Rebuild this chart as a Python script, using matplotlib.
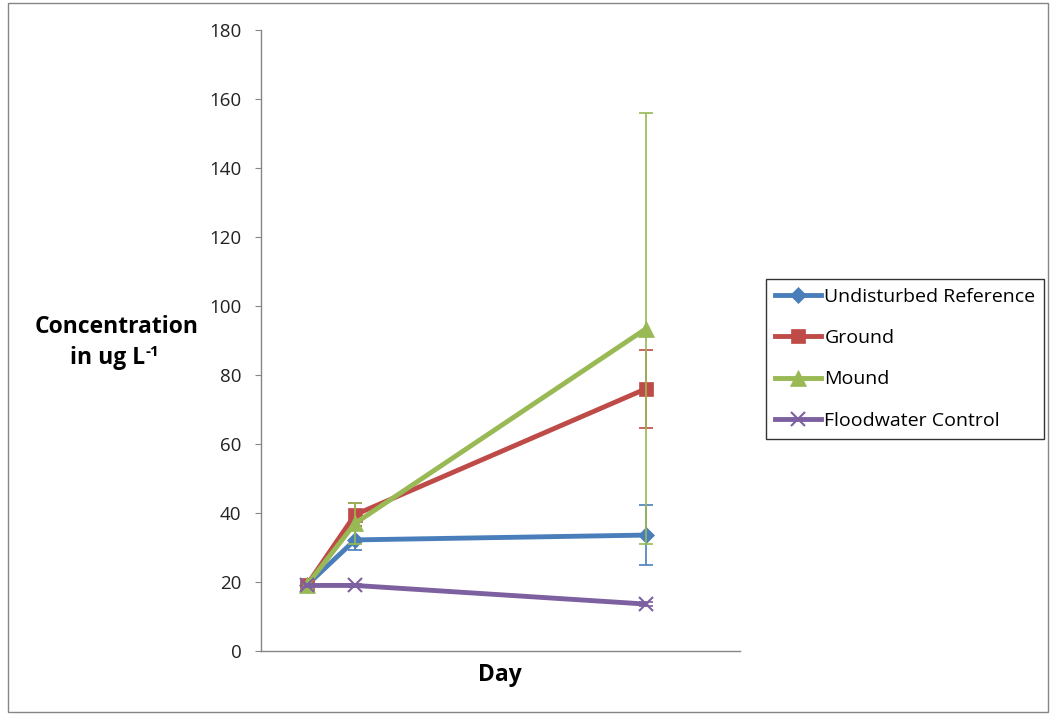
import matplotlib.pyplot as plt
from matplotlib.patches import Rectangle

plt.rcParams['font.family'] = ['Open Sans', 'DejaVu Sans']

days = [0, 1, 7]
series = ['Undisturbed Reference', 'Ground', 'Mound', 'Floodwater Control']
undisturbed = [19.0, 32.2, 33.6]
undisturbed_err = [0.5, 3.0, 8.7]
ground = [19.0, 39.5, 76.0]
ground_err = [0.5, 3.4, 11.3]
mound = [19.0, 37.0, 93.4]
mound_err = [0.5, 6.0, 62.4]
floodwater = [19.0, 19.0, 13.6]
floodwater_err = [0.5, 0.5, 0.5]

colour = {'Undisturbed Reference': '#4A7EBB',
          'Ground':                '#BE4B48',
          'Mound':                 '#98B954',
          'Floodwater Control':    '#7D60A0'}
marker = {'Undisturbed Reference': 'D',
          'Ground':                's',
          'Mound':                 '^',
          'Floodwater Control':    'x'}
msize = {'Undisturbed Reference': 8,
         'Ground':                10,
         'Mound':                 11,
         'Floodwater Control':    10}

values = [undisturbed, ground, mound, floodwater]
errors = [undisturbed_err, ground_err, mound_err, floodwater_err]

fig = plt.figure(figsize=(10.51, 7.15), dpi=100)
ax = fig.add_axes([261/1051, 1-651/715, (740-261)/1051, (651-30)/715])

for name, y, e in zip(series, values, errors):
    c = colour[name]
    ax.errorbar(days, y, yerr=e, fmt='none', ecolor=c, elinewidth=1.2,
                capsize=5, capthick=1.2)
    ax.plot(days, y, color=c, linewidth=3.5, marker=marker[name],
            markersize=msize[name],
            markeredgewidth=1.5 if name == 'Floodwater Control' else 0.5,
            markeredgecolor=c, label=name)

ax.set_xlim(-0.94, 8.94)
ax.set_ylim(0, 180)
ax.set_yticks(range(0, 181, 20))
ax.set_xticks([])
for s in ['top', 'right']:
    ax.spines[s].set_visible(False)
for s in ['left', 'bottom']:
    ax.spines[s].set_color('#868686')
    ax.spines[s].set_linewidth(1)
ax.tick_params(axis='y', direction='out', length=4, color='#868686',
               labelsize=13.5, pad=10, labelcolor='#222222')

fig.text(500/1051, 1-675/715, 'Day', fontsize=16.5, fontweight='bold',
         ha='center', va='center')

# y label, drawn in pieces so the superscript keeps a plain hyphen
fig.text(117/1051, 1-333/715, 'Concentration', fontsize=16.5,
         fontweight='bold', ha='center', va='baseline')
fig.text(145/1051, 1-364/715, 'in ug L', fontsize=16.5,
         fontweight='bold', ha='right', va='baseline')
fig.text(146/1051, 1-356/715, '-1', fontsize=11,
         fontweight='bold', ha='left', va='baseline')

leg = ax.legend(loc='upper left', bbox_to_anchor=(766/1051, 1-279/715),
                bbox_transform=fig.transFigure, frameon=True, fancybox=False,
                fontsize=14, handlelength=2.4, handletextpad=0.15,
                labelspacing=1.2, borderpad=0.45, borderaxespad=0)
leg.get_frame().set_edgecolor('black')
leg.get_frame().set_linewidth(1)

fig.patches.append(Rectangle((8/1051, 3/715), 1040/1051, 709/715,
                             transform=fig.transFigure, fill=False,
                             edgecolor='#868686', linewidth=1))

plt.savefig('out.png', dpi=100)
